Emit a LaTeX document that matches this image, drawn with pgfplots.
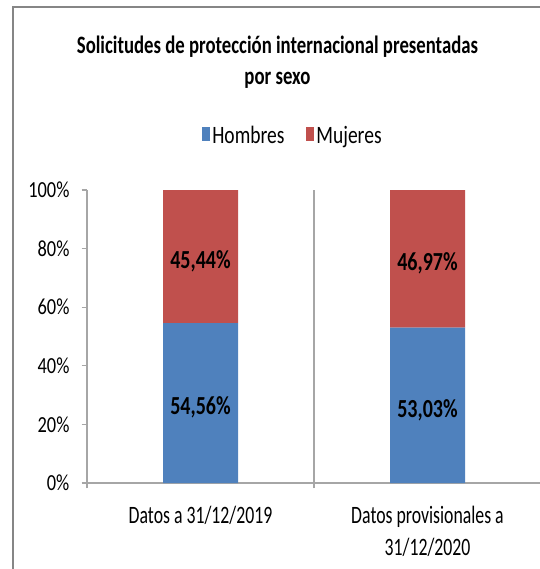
\documentclass[border=0pt]{standalone}
\usepackage{pgfplots}
\pgfplotsset{compat=1.18}
\usepackage{fontspec}
\setmainfont{Carlito}
\newfontfamily\tickf{Carlito}[FakeStretch=0.8]
\newfontfamily\legf{Carlito}[FakeStretch=0.78]
\newfontfamily\catf{Carlito}[FakeStretch=0.71]
\newfontfamily\titf{Carlito}[FakeStretch=0.75]
\newfontfamily\datf{Carlito}[FakeStretch=0.77]
\definecolor{hblue}{HTML}{4F81BD}
\definecolor{mred}{HTML}{C0504D}
\definecolor{axgray}{HTML}{A6A6A6}
\definecolor{framegray}{HTML}{868686}
\pgfplotstableread{
x v lab
0 54.56 {54,56\%}
1 53.03 {53,03\%}
}\hombres
\pgfplotstableread{
x v lab
0 45.44 {45,44\%}
1 46.97 {46,97\%}
}\mujeres
\begin{document}
\begin{tikzpicture}
\useasboundingbox (0pt,0pt) rectangle (405pt,426.75pt);
\draw[framegray, line width=1.6pt] (9.75pt,421.5pt) rectangle (450pt,-20pt);
\node[font=\titf\fontsize{18.75}{23}\selectfont\bfseries, anchor=base] at (208.1pt,386.25pt)
  {Solicitudes de protección internacional presentadas};
\node[font=\titf\fontsize{18.75}{23}\selectfont\bfseries, anchor=base] at (208.1pt,363pt)
  {por sexo};
\begin{axis}[
  at={(65.25pt,64.5pt)}, anchor=south west,
  scale only axis, width=340.5pt, height=219.75pt,
  xmin=-0.5, xmax=1.5, ymin=0, ymax=100,
  axis x line*=bottom, axis y line*=left,
  axis line style={-, axgray, line width=0.8pt},
  ybar stacked, bar width=56.25pt,
  ytick={0,20,40,60,80,100},
  yticklabels={0\%,20\%,40\%,60\%,80\%,100\%},
  yticklabel style={font=\tickf\fontsize{17.25}{20}\selectfont, anchor=east, inner xsep=0pt, xshift=-9pt},
  xtick={-0.5,0.5,1.5}, xticklabels={},
  extra x ticks={0,1},
  extra x tick labels={Datos a 31/12/2019,{Datos provisionales a\\31/12/2020}},
  extra x tick style={major tick length=0pt, grid=none,
    tick label style={align=center, font=\catf\fontsize{18.75}{24}\selectfont,
      anchor=north, inner sep=0pt, yshift=-17pt}},
  tick align=outside, major tick length=4pt,
  tick style={axgray, line width=0.8pt},
  xmajorgrids, major x grid style={axgray, line width=0.8pt},
  legend style={at={(0.4537,1.184)}, anchor=center, draw=none, fill=none,
    legend columns=2, font=\legf\fontsize{18.75}{22}\selectfont,
    nodes={inner xsep=1.5pt},
    /tikz/every even column/.append style={column sep=15pt}},
  legend image code/.code={\fill[#1] (0pt,-4pt) rectangle (6pt,7pt);},
  point meta=explicit symbolic,
  nodes near coords,
  every node near coord/.append style={font=\datf\fontsize{19.5}{22}\selectfont\bfseries,
    anchor=center, yshift=-3.5pt},
]
\addplot[fill=hblue, draw=none] table[x=x, y=v, meta=lab] {\hombres};
\addlegendentry{Hombres}
\addplot[fill=mred, draw=none] table[x=x, y=v, meta=lab] {\mujeres};
\addlegendentry{Mujeres}
\end{axis}
\end{tikzpicture}
\end{document}
